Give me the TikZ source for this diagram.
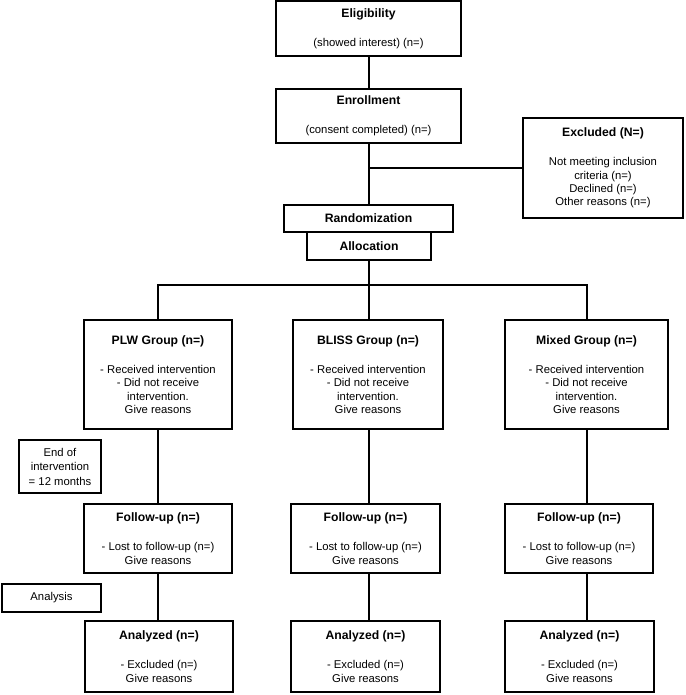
\documentclass[tikz,border=0pt]{standalone}
\usepackage{fontspec}
\setmainfont{Liberation Sans}
\newcommand{\hd}[1]{\textbf{\fontsize{12.2}{13.3}\selectfont #1}}

\begin{document}
\begin{tikzpicture}[x=1pt, y=-1pt,
    box/.style={draw, line width=2pt, rectangle, align=center, inner sep=0pt,
        font=\fontsize{11.3}{13.3}\selectfont},
    link/.style={line width=2pt}]
        \useasboundingbox (0,0) rectangle (685,695);

        % Draw nodes
        \node[box, minimum width=185, minimum height=54.5] (elig) at (368.5,28.75) {\hd{Eligibility}\\[16pt](showed interest) (n=)};
        \node[box, minimum width=185, minimum height=54] (enrol) at (368.5,116) {\hd{Enrollment}\\[16pt](consent completed) (n=)};
        \node[box, minimum width=160, minimum height=99] (excl) at (603,168) {\hd{Excluded (N=)}\\[16pt]Not meeting inclusion\\criteria (n=)\\Declined (n=)\\Other reasons (n=)};
        \node[box, minimum width=169, minimum height=27] (rand) at (368.5,218.5) {\hd{Randomization}};
        \node[box, minimum width=124, minimum height=28] (alloc) at (369,246) {\hd{Allocation}};

        \node[box, minimum width=148, minimum height=109] (plw) at (158,374.5) {\hd{PLW Group (n=)}\\[16pt]- Received intervention\\- Did not receive\\intervention.\\Give reasons};
        \node[box, minimum width=150, minimum height=109] (bliss) at (368,374.5) {\hd{BLISS Group (n=)}\\[16pt]- Received intervention\\- Did not receive\\intervention.\\Give reasons};
        \node[box, minimum width=163, minimum height=109] (mixed) at (586.5,374.5) {\hd{Mixed Group (n=)}\\[16pt]- Received intervention\\- Did not receive\\intervention.\\Give reasons};

        \node[box, minimum width=82, minimum height=53, font=\fontsize{11.3}{14.5}\selectfont] (endint) at (60,466.5) {End of\\intervention\\= 12 months};

        \node[box, minimum width=148, minimum height=69] (fup1) at (158,538.5) {\hd{Follow-up (n=)}\\[16pt]- Lost to follow-up (n=)\\Give reasons};
        \node[box, minimum width=149, minimum height=69] (fup2) at (365.5,538.5) {\hd{Follow-up (n=)}\\[16pt]- Lost to follow-up (n=)\\Give reasons};
        \node[box, minimum width=148, minimum height=69] (fup3) at (579,538.5) {\hd{Follow-up (n=)}\\[16pt]- Lost to follow-up (n=)\\Give reasons};

        \node[box, minimum width=99, minimum height=28] (analysis) at (51.5,598) {Analysis};

        \node[box, minimum width=148, minimum height=71] (anl1) at (159,656.5) {\hd{Analyzed (n=)}\\[16pt]- Excluded (n=)\\Give reasons};
        \node[box, minimum width=149, minimum height=71] (anl2) at (365.5,656.5) {\hd{Analyzed (n=)}\\[16pt]- Excluded (n=)\\Give reasons};
        \node[box, minimum width=149, minimum height=71] (anl3) at (579.5,656.5) {\hd{Analyzed (n=)}\\[16pt]- Excluded (n=)\\Give reasons};

        % Draw connections
        \draw[link] (elig) -- (enrol);
        \draw[link] (enrol) -- (rand);
        \coordinate (exbr) at (enrol.south |- excl.west);
        \draw[link] (exbr) -- (excl.west);
        \coordinate (split) at (369,285);
        \draw[link] (alloc.south) -- (split);
        \draw[link] (plw.north) |- (split) -| (mixed.north);
        \draw[link] (bliss.north -| split) -- (split);

        \draw[link] (plw.south) -- (fup1.north);
        \draw[link] (bliss.south -| split) -- (fup2.north -| split);
        \draw[link] (mixed.south) -- (mixed.south |- fup3.north);

        \draw[link] (fup1.south -| plw.south) -- (anl1.north -| plw.south);
        \draw[link] (fup2.south -| split) -- (anl2.north -| split);
        \draw[link] (fup3.south -| mixed.south) -- (anl3.north -| mixed.south);
    \end{tikzpicture}
\end{document}
